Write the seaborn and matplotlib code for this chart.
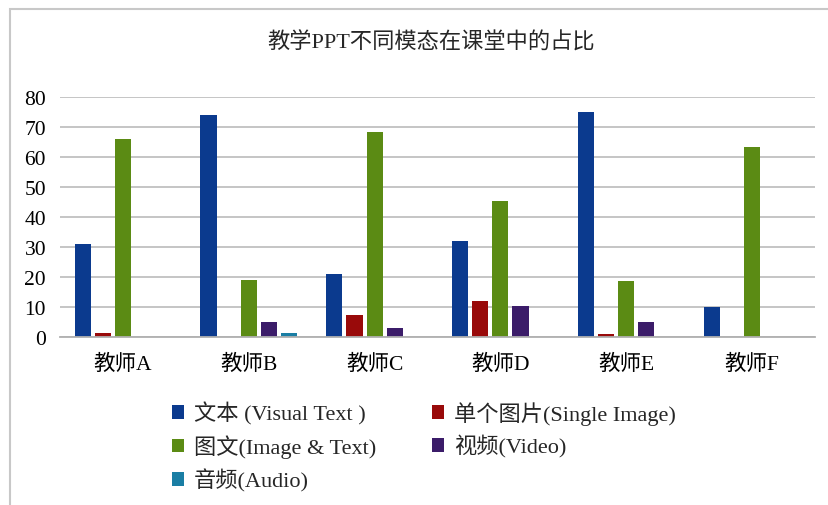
import pandas as pd
import seaborn as sns
import matplotlib.pyplot as plt
from matplotlib.patches import Rectangle

# data
teachers = ['教师A', '教师B', '教师C', '教师D', '教师E', '教师F']
series = ['文本 (Visual Text )', '单个图片(Single Image)', '图文(Image & Text)',
          '视频(Video)', '音频(Audio)']
text_vals = [31, 74, 21, 32, 75, 10]
image_vals = [1.5, 0, 7.2, 12, 1, 0]
imgtext_vals = [66, 19, 68.5, 45.5, 18.8, 63.5]
video_vals = [0, 5, 3, 10.2, 5, 0]
audio_vals = [0, 1.5, 0, 0, 0, 0]
colors = ['#0B3A8E', '#990A0A', '#5B8B14', '#3B1C69', '#1A7EA4']

rows = []
for name, vals in zip(series, [text_vals, image_vals, imgtext_vals, video_vals, audio_vals]):
    for t, v in zip(teachers, vals):
        rows.append({'teacher': t, 'series': name, 'value': v})
df = pd.DataFrame(rows)

sns.set_style("white")
plt.rcParams['font.family'] = ['Liberation Serif', 'Noto Sans CJK SC']

fig = plt.figure(figsize=(8.29, 5.06), dpi=100)
# light grey frame around the chart area
fig.patches.append(Rectangle((10 / 829, -0.1), 1.0, 1 - 10 / 506 + 0.1,
                             transform=fig.transFigure, fill=False,
                             edgecolor='#C8C8C8', linewidth=1.5))
ax = fig.add_axes([60 / 829, 168 / 506, 755 / 829, 240 / 506])

sns.barplot(data=df, x='teacher', y='value', hue='series', order=teachers,
            hue_order=series, palette=colors, saturation=1, width=0.8, gap=0.2,
            linewidth=0, ax=ax)

ax.set_ylim(0, 80)
ax.set_yticks(range(0, 81, 10))
ax.yaxis.grid(True, color='#C0C0C0', linewidth=1.3)
ax.set_axisbelow(True)
for s in ['top', 'right', 'left']:
    ax.spines[s].set_visible(False)
ax.spines['bottom'].set_color('#B0B0B0')
ax.spines['bottom'].set_linewidth(1.3)
ax.tick_params(axis='both', length=0, labelsize=15.5, colors='black')
ax.tick_params(axis='y', pad=10)
ax.tick_params(axis='x', pad=12)
ax.set_xlabel('')
ax.set_ylabel('')

fig.text(431 / 829, 1 - 43 / 506, '教学PPT不同模态在课堂中的占比', ha='center', va='center',
         fontsize=16)

handles, labels = ax.get_legend_handles_labels()
order = [0, 2, 4, 1, 3]
ax.legend([handles[i] for i in order], [labels[i] for i in order], ncol=2,
          loc='upper left', bbox_to_anchor=(152 / 829, 1 - 382 / 506),
          bbox_transform=fig.transFigure, frameon=False, fontsize=16,
          handlelength=0.55, handleheight=0.55, handletextpad=0.45,
          columnspacing=2.5, labelspacing=0.45)

fig.savefig('out.png', dpi=100)
